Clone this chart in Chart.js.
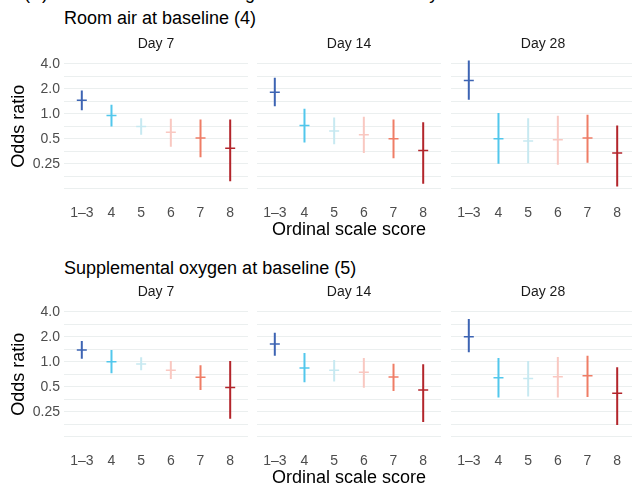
<!DOCTYPE html>
<html>
<head>
<meta charset="utf-8">
<script src="https://cdn.jsdelivr.net/npm/chart.js@4"></script>
<style>
  body { margin: 0; width: 632px; height: 487px; overflow: hidden; background: #fff; position: relative; font-family: "Liberation Sans", Arial, sans-serif; }
  canvas { position: absolute; }
  .txt { position: absolute; white-space: nowrap; line-height: 1; }
  .ctr { transform: translate(-50%, -50%); }
</style>
</head>
<body>
<div class="txt" style="left:24px; top:-16px; font-size:18px; color:#000;">(A) Odds ratios for remaining in each scale score by</div>
<div class="txt" style="left:64px; top:9px; font-size:18px; color:#000;">Room air at baseline (4)</div>
<div class="txt" style="left:64px; top:259px; font-size:18px; color:#000;">Supplemental oxygen at baseline (5)</div>

<canvas id="c00" width="248" height="202" style="left:0px; top:40px;"></canvas>
<canvas id="c01" width="184" height="202" style="left:257px; top:40px;"></canvas>
<canvas id="c02" width="184" height="202" style="left:451px; top:40px;"></canvas>
<canvas id="c10" width="248" height="202" style="left:0px; top:288px;"></canvas>
<canvas id="c11" width="184" height="202" style="left:257px; top:288px;"></canvas>
<canvas id="c12" width="184" height="202" style="left:451px; top:288px;"></canvas>

<script>
// categories and facets
const categories = ["1\u20133", "4", "5", "6", "7", "8"];
const days = ["Day 7", "Day 14", "Day 28"];
const colors = ["#3d64b3", "#52c7ec", "#c7e9f1", "#f9c8c1", "#ef7d66", "#b3252b"];

// y axis grid / labels (log scale, odds ratio)
const yGridVals = [0.125, 0.1768, 0.25, 0.3536, 0.5, 0.7071, 1, 1.414, 2, 2.828, 4];
const yTickVals = [0.25, 0.5, 1, 2, 4];
const yTickLabels = ["0.25", "0.5", "1.0", "2.0", "4.0"];

// Room air at baseline (4): one row per day
const roomEst = [
  [1.45, 0.95, 0.70, 0.60, 0.51, 0.385],
  [1.82, 0.72, 0.62, 0.56, 0.50, 0.36],
  [2.52, 0.50, 0.47, 0.486, 0.51, 0.336],
];
const roomLo = [
  [1.10, 0.70, 0.56, 0.40, 0.30, 0.154],
  [1.23, 0.45, 0.43, 0.336, 0.29, 0.143],
  [1.47, 0.25, 0.253, 0.243, 0.257, 0.133],
];
const roomHi = [
  [1.91, 1.28, 0.885, 0.87, 0.85, 0.85],
  [2.71, 1.15, 0.90, 0.92, 0.85, 0.79],
  [4.38, 1.02, 0.885, 0.945, 0.97, 0.72],
];

// Supplemental oxygen at baseline (5)
const oxyEst = [
  [1.38, 1.0, 0.94, 0.79, 0.65, 0.49],
  [1.63, 0.84, 0.79, 0.745, 0.654, 0.456],
  [2.0, 0.64, 0.63, 0.66, 0.68, 0.416],
];
const oxyLo = [
  [1.09, 0.725, 0.79, 0.62, 0.456, 0.206],
  [1.18, 0.565, 0.58, 0.486, 0.444, 0.188],
  [1.30, 0.37, 0.38, 0.37, 0.376, 0.173],
];
const oxyHi = [
  [1.78, 1.38, 1.13, 1.02, 0.905, 1.02],
  [2.23, 1.27, 1.05, 1.11, 0.946, 0.93],
  [3.27, 1.11, 1.02, 1.14, 1.18, 0.856],
];

const FONT = "'Liberation Sans', Arial, sans-serif";
const TICK_COLOR = "#4d4d4d";
const GRID_COLOR = "#ebefef";

function makePanel(canvasId, est, lo, hi, col) {
  const datasets = [];

  // vertical interval for each category
  categories.forEach((c, i) => {
    datasets.push({
      data: [{ x: i, y: lo[i] }, { x: i, y: hi[i] }],
      showLine: true,
      borderColor: colors[i],
      borderWidth: 2,
      pointRadius: 0,
    });
  });

  // estimate tick
  datasets.push({
    data: categories.map((c, i) => ({ x: i, y: est[i] })),
    pointStyle: "line",
    pointRadius: 5,
    pointBorderWidth: 1.5,
    pointBorderColor: colors,
    pointBackgroundColor: colors,
  });

  const isLeft = col === 0;
  const isMiddle = col === 1;

  new Chart(document.getElementById(canvasId), {
    type: "scatter",
    data: { datasets: datasets },
    options: {
      responsive: false,
      animation: false,
      devicePixelRatio: 1,
      layout: { autoPadding: false, padding: { top: 17.5, left: 0, right: 0, bottom: 0 } },
      plugins: { legend: { display: false }, tooltip: { enabled: false } },
      scales: {
        x: {
          type: "linear",
          min: -0.6,
          max: 5.6,
          afterBuildTicks: (scale) => {
            scale.ticks = categories.map((c, i) => ({ value: i }));
          },
          afterFit: (scale) => {
            scale.height = 47;
          },
          grid: { display: false, drawTicks: false },
          border: { display: false },
          ticks: {
            autoSkip: false,
            maxRotation: 0,
            padding: 0,
            color: TICK_COLOR,
            font: { family: FONT, size: 14, lineHeight: "36px" },
            callback: (v) => categories[v],
          },
          title: {
            display: isMiddle,
            text: "Ordinal scale score",
            color: "#000",
            font: { family: FONT, size: 18 },
            padding: { top: 0, bottom: 1 },
          },
        },
        y: {
          type: "logarithmic",
          min: 0.105,
          max: 4.757,
          bounds: "data",
          afterBuildTicks: (scale) => {
            scale.ticks = yGridVals.map((v) => ({ value: v }));
          },
          afterFit: (scale) => {
            scale.width = isLeft ? 64 : 0;
          },
          grid: { color: GRID_COLOR, lineWidth: 1, drawTicks: false },
          border: { display: false },
          ticks: {
            display: isLeft,
            autoSkip: false,
            padding: 4,
            color: TICK_COLOR,
            font: { family: FONT, size: 14 },
            callback: (v) => {
              const k = yTickVals.findIndex((t) => Math.abs(t - v) < 1e-6);
              return k >= 0 ? yTickLabels[k] : "";
            },
          },
          title: {
            display: isLeft,
            text: "Odds ratio",
            color: "#000",
            font: { family: FONT, size: 18 },
            padding: { top: 8, bottom: 0 },
          },
        },
      },
    },
  });
}

// facet strip labels
function addStrip(text, x, y) {
  const d = document.createElement("div");
  d.className = "txt ctr";
  d.style.left = x + "px";
  d.style.top = y + "px";
  d.style.fontSize = "14px";
  d.style.color = "#1a1a1a";
  d.textContent = text;
  document.body.appendChild(d);
}

const panelCenters = [156, 349, 543];
days.forEach((d, j) => {
  addStrip(d, panelCenters[j], 43);
  addStrip(d, panelCenters[j], 291);
  makePanel("c0" + j, roomEst[j], roomLo[j], roomHi[j], j);
  makePanel("c1" + j, oxyEst[j], oxyLo[j], oxyHi[j], j);
});
</script>
</body>
</html>
